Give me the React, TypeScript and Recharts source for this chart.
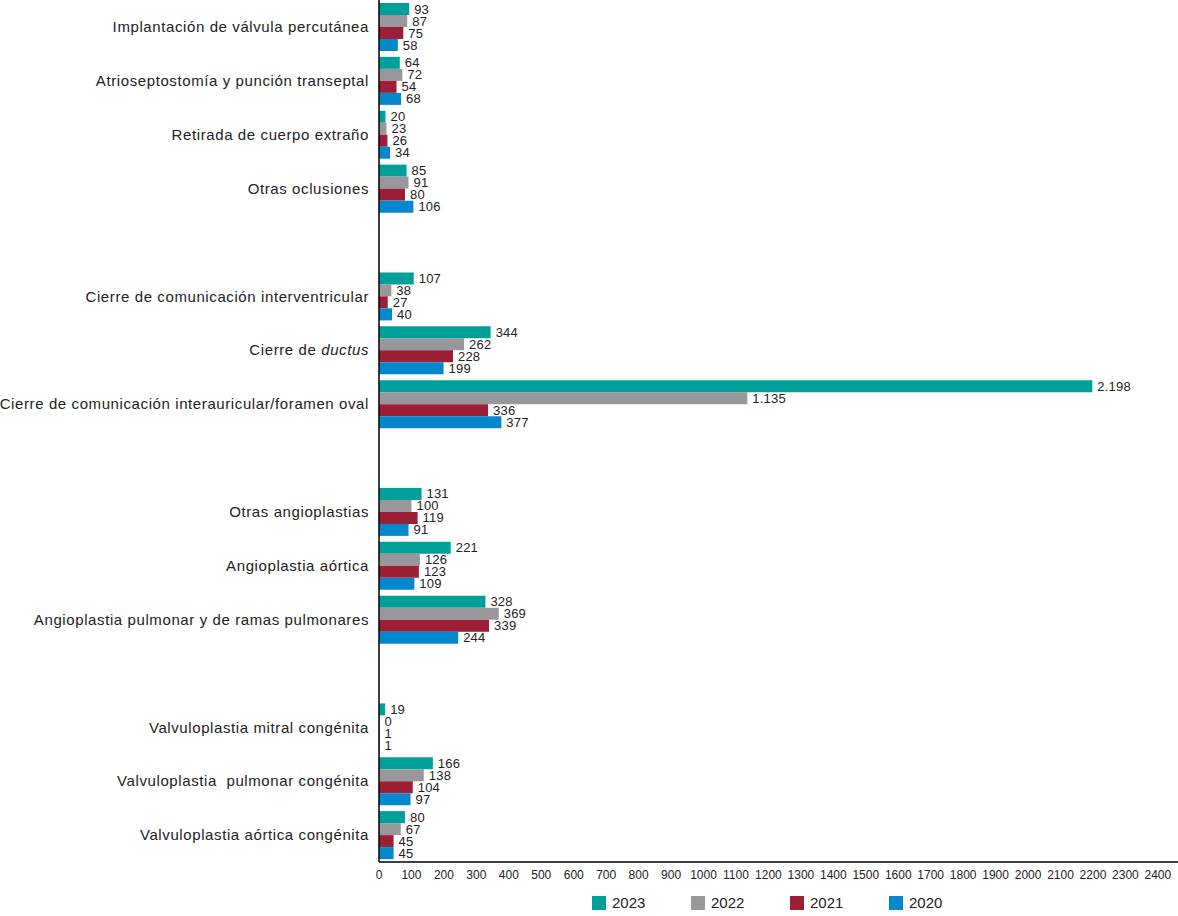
import { BarChart, Bar, XAxis, YAxis, Legend, LabelList } from 'recharts';

// categories top to bottom; blank rows are the group spacers
const categories = [
  'Implantación de válvula percutánea',
  'Atrioseptostomía y punción transeptal',
  'Retirada de cuerpo extraño',
  'Otras oclusiones',
  ' ',
  'Cierre de comunicación interventricular',
  'Cierre de ductus',
  'Cierre de comunicación interauricular/foramen oval',
  '  ',
  'Otras angioplastias',
  'Angioplastia aórtica',
  'Angioplastia pulmonar y de ramas pulmonares',
  '   ',
  'Valvuloplastia mitral congénita',
  'Valvuloplastia  pulmonar congénita',
  'Valvuloplastia aórtica congénita',
];

const v2023 = [93, 64, 20, 85, null, 107, 344, 2198, null, 131, 221, 328, null, 19, 166, 80];
const v2022 = [87, 72, 23, 91, null, 38, 262, 1135, null, 100, 126, 369, null, 0, 138, 67];
const v2021 = [75, 54, 26, 80, null, 27, 228, 336, null, 119, 123, 339, null, 1, 104, 45];
const v2020 = [58, 68, 34, 106, null, 40, 199, 377, null, 91, 109, 244, null, 1, 97, 45];

const xTicks = [0, 100, 200, 300, 400, 500, 600, 700, 800, 900, 1000, 1100, 1200, 1300, 1400, 1500, 1600, 1700, 1800, 1900, 2000, 2100, 2200, 2300, 2400];

const series = [
  { key: 'y2023', name: '2023', color: '#00a09a' },
  { key: 'y2022', name: '2022', color: '#98989c' },
  { key: 'y2021', name: '2021', color: '#9d1f36' },
  { key: 'y2020', name: '2020', color: '#0587cc' },
];

const data = categories.map((cat, i) => ({
  cat,
  y2023: v2023[i],
  y2022: v2022[i],
  y2021: v2021[i],
  y2020: v2020[i],
}));

const FONT = '"Liberation Sans", Arial, Helvetica, sans-serif';

// spanish thousands separator
const fmt = (v: any) => {
  if (v === null || v === undefined) return '';
  return String(v).replace(/\B(?=(\d{3})+(?!\d))/g, '.');
};

const CategoryTick = ({ x, y, payload }: any) => {
  const label: string = payload.value;
  const common = {
    x: x - 2,
    y,
    dy: '0.35em',
    textAnchor: 'end' as const,
    fontSize: 15,
    letterSpacing: 0.6,
    fill: '#222',
    fontFamily: FONT,
  };
  if (label === 'Cierre de ductus') {
    return (
      <text {...common}>
        <tspan>Cierre de </tspan>
        <tspan fontStyle="italic">ductus</tspan>
      </text>
    );
  }
  return (
    <text {...common} style={{ whiteSpace: 'pre' }}>
      {label.trim() === '' ? '' : label}
    </text>
  );
};

// value label right of the bar, also shown for zero values
const ValueLabel = (props: any) => {
  const { x, y, width, height, value } = props;
  if (value === null || value === undefined) return null;
  return (
    <text
      x={x + width + 5}
      y={y + height / 2}
      dy="0.35em"
      fontSize={13}
      fill="#222"
      fontFamily={FONT}
      letterSpacing={0.2}
    >
      {fmt(value)}
    </text>
  );
};

const LegendBox = () => (
  <div style={{ height: 30, position: 'relative', fontFamily: FONT }}>
    {series.map((s, i) => (
      <div
        key={s.key}
        style={{ position: 'absolute', left: 592 + i * 99, top: 8, display: 'flex', alignItems: 'center' }}
      >
        <div style={{ width: 14, height: 14, background: s.color }} />
        <span style={{ marginLeft: 6, fontSize: 15, color: '#222' }}>{s.name}</span>
      </div>
    ))}
  </div>
);

export default function App() {
  return (
    <div style={{ position: 'absolute', left: 0, top: 0, width: 1178, height: 916, background: '#fff' }}>
      <BarChart
        width={1178}
        height={916}
        data={data}
        layout="vertical"
        margin={{ top: 0, right: 0, bottom: 0, left: 0 }}
        barCategoryGap="11%"
        barGap={0}
      >
        <XAxis
          type="number"
          domain={[0, 2462]}
          ticks={xTicks}
          interval={0}
          tickLine={false}
          axisLine={{ stroke: '#000', strokeWidth: 1.5 }}
          tick={{ fontSize: 12, fill: '#222', fontFamily: FONT }}
          height={24}
        />
        <YAxis
          type="category"
          dataKey="cat"
          width={379}
          tickLine={false}
          interval={0}
          axisLine={{ stroke: '#000', strokeWidth: 1.5 }}
          tick={<CategoryTick />}
        />
        <Legend verticalAlign="bottom" content={<LegendBox />} />
        {series.map((s) => (
          <Bar
            key={s.key}
            dataKey={s.key}
            name={s.name}
            fill={s.color}
            barSize={12}
            minPointSize={0.5}
            isAnimationActive={false}
          >
            <LabelList dataKey={s.key} content={<ValueLabel />} />
          </Bar>
        ))}
      </BarChart>
    </div>
  );
}
